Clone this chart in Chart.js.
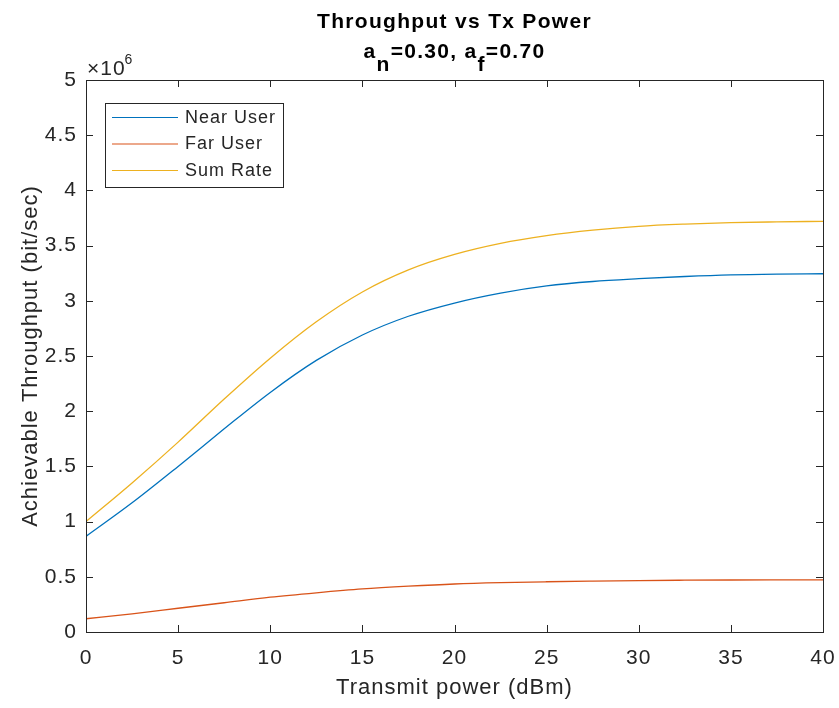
<!DOCTYPE html>
<html lang="en">
  <head>
    <meta charset="UTF-8" />
    <title>Throughput vs Tx Power</title>
    <style>
      body {
        margin: 0;
        background-color: #ffffff;
      }
    </style>
    <script src="https://cdn.jsdelivr.net/npm/chart.js"></script>
  </head>
  <body>
    <canvas id="chart" width="839" height="708"></canvas>
    <script>
      // transmit power (dBm)
      const txPower = [0, 2.5, 5, 7.5, 10, 12.5, 15, 17.5, 20, 22.5, 25, 27.5, 30, 32.5, 35, 37.5, 40];
      // achievable throughput, in units of 1e6 bit/sec
      const nearUser = [0.866, 1.17, 1.5, 1.84, 2.17, 2.46, 2.69, 2.86, 2.98, 3.07, 3.135, 3.175, 3.2, 3.22, 3.235, 3.242, 3.245];
      const farUser = [0.12, 0.165, 0.215, 0.265, 0.315, 0.355, 0.39, 0.415, 0.435, 0.447, 0.455, 0.461, 0.466, 0.469, 0.471, 0.472, 0.472];
      const sumRate = [1.0, 1.35, 1.72, 2.11, 2.48, 2.81, 3.08, 3.28, 3.42, 3.52, 3.59, 3.64, 3.675, 3.695, 3.708, 3.715, 3.72];

      const seriesNames = ['Near User', 'Far User', 'Sum Rate'];
      const seriesColors = ['#0072BD', '#D95319', '#EDB120'];

      const titleText = 'Throughput vs Tx Power';
      const xTitle = 'Transmit power (dBm)';
      const yTitle = 'Achievable Throughput (bit/sec)';

      const FONT = "'Liberation Sans', Arial, sans-serif";
      const AXIS = '#262626';

      const toPoints = (ys) => txPower.map((x, i) => ({ x: x, y: ys[i] }));

      // matlab text looks a bit wider than arial, so space the letters out
      const spacing = {
        id: 'spacing',
        beforeUpdate(chart) { chart.ctx.letterSpacing = '1px'; },
        beforeLayout(chart) { chart.ctx.letterSpacing = '1px'; },
        beforeDraw(chart) { chart.ctx.letterSpacing = '1px'; }
      };

      // box round the axes with inward ticks on all four sides
      const boxTicks = {
        id: 'boxTicks',
        afterDatasetsDraw(chart) {
          const { ctx, chartArea: a, scales } = chart;
          const len = 7;
          ctx.save();
          ctx.strokeStyle = AXIS;
          ctx.lineWidth = 1;
          ctx.strokeRect(Math.round(a.left) + 0.5, Math.round(a.top) + 0.5,
            Math.round(a.right - a.left), Math.round(a.bottom - a.top));
          ctx.beginPath();
          scales.x.ticks.forEach(t => {
            const px = Math.round(scales.x.getPixelForValue(t.value)) + 0.5;
            ctx.moveTo(px, a.bottom); ctx.lineTo(px, a.bottom - len);
            ctx.moveTo(px, a.top); ctx.lineTo(px, a.top + len);
          });
          scales.y.ticks.forEach(t => {
            const py = Math.round(scales.y.getPixelForValue(t.value)) + 0.5;
            ctx.moveTo(a.left, py); ctx.lineTo(a.left + len, py);
            ctx.moveTo(a.right, py); ctx.lineTo(a.right - len, py);
          });
          ctx.stroke();
          ctx.restore();
        }
      };

      // title with subscripts and the x10^6 exponent label
      const titles = {
        id: 'titles',
        afterDraw(chart) {
          const { ctx, chartArea: a } = chart;
          const cx = (a.left + a.right) / 2;
          ctx.save();
          ctx.letterSpacing = '1.3px';
          ctx.fillStyle = '#000';
          ctx.textBaseline = 'alphabetic';
          ctx.textAlign = 'left';
          ctx.font = 'bold 21px ' + FONT;
          let w = ctx.measureText(titleText).width;
          ctx.fillText(titleText, cx - w / 2, 28);

          const parts = [['a', 0], ['n', 1], ['=0.30, a', 0], ['f', 1], ['=0.70', 0]];
          w = parts.reduce((s, p) => s + ctx.measureText(p[0]).width, 0);
          let x = cx - w / 2;
          parts.forEach(p => {
            ctx.fillText(p[0], x, p[1] ? 71 : 58);
            x += ctx.measureText(p[0]).width;
          });

          ctx.fillStyle = AXIS;
          ctx.letterSpacing = '1px';
          ctx.font = '21px ' + FONT;
          ctx.fillText('\u00d710', a.left + 1, 75);
          const ew = ctx.measureText('\u00d710').width;
          ctx.font = '14px ' + FONT;
          ctx.fillText('6', a.left + ew, 64);
          ctx.restore();
        }
      };

      // legend box in the upper left corner of the axes
      const boxLegend = {
        id: 'boxLegend',
        afterDraw(chart) {
          const { ctx, chartArea: a } = chart;
          const left = a.left + 19, top = a.top + 23;
          ctx.save();
          ctx.fillStyle = '#fff';
          ctx.fillRect(left, top, 178, 84);
          ctx.strokeStyle = AXIS;
          ctx.lineWidth = 1;
          ctx.strokeRect(left + 0.5, top + 0.5, 178, 84);
          ctx.letterSpacing = '1px';
          ctx.font = '18px ' + FONT;
          ctx.textBaseline = 'middle';
          ctx.textAlign = 'left';
          chart.data.datasets.forEach((ds, i) => {
            const y = top + 14 + i * 26.5;
            ctx.strokeStyle = ds.borderColor;
            ctx.lineWidth = 1.2;
            ctx.beginPath();
            ctx.moveTo(left + 7, y + 0.5);
            ctx.lineTo(left + 73, y + 0.5);
            ctx.stroke();
            ctx.fillStyle = AXIS;
            ctx.fillText(ds.label, left + 80, y + 1);
          });
          ctx.restore();
        }
      };

      const makeSet = (label, ys, color) => ({
        label: label,
        data: toPoints(ys),
        borderColor: color,
        backgroundColor: color,
        borderWidth: 1.3,
        pointRadius: 0,
        cubicInterpolationMode: 'monotone',
        fill: false
      });

      const ctx = document.getElementById('chart').getContext('2d');
      const chart = new Chart(ctx, {
        type: 'line',
        data: {
          datasets: [
            makeSet(seriesNames[0], nearUser, seriesColors[0]),
            makeSet(seriesNames[1], farUser, seriesColors[1]),
            makeSet(seriesNames[2], sumRate, seriesColors[2])
          ]
        },
        options: {
          responsive: false,
          animation: false,
          events: [],
          layout: { padding: { top: 80, right: 0, left: 0, bottom: 0 } },
          plugins: {
            legend: { display: false },
            title: { display: false },
            tooltip: { enabled: false }
          },
          scales: {
            x: {
              type: 'linear',
              min: 0,
              max: 40,
              grid: { display: false },
              border: { display: false },
              ticks: {
                stepSize: 5,
                padding: 6,
                color: AXIS,
                maxRotation: 0,
                font: { family: FONT, size: 21 }
              },
              title: {
                display: true,
                text: xTitle,
                color: AXIS,
                padding: { top: 7, bottom: 7 },
                font: { family: FONT, size: 22 }
              },
              afterFit(scale) {
                scale.height = 76;
                scale.paddingLeft = 0;
                scale.paddingRight = 16;
              }
            },
            y: {
              min: 0,
              max: 5,
              grid: { display: false },
              border: { display: false },
              ticks: {
                stepSize: 0.5,
                padding: 1,
                color: AXIS,
                font: { family: FONT, size: 21 },
                callback: (v) => String(Math.round(v * 10) / 10)
              },
              title: {
                display: true,
                text: yTitle,
                color: AXIS,
                padding: { top: 18, bottom: 18 },
                font: { family: FONT, size: 22 }
              },
              afterFit(scale) { scale.width = 86; }
            }
          }
        },
        plugins: [spacing, boxTicks, titles, boxLegend]
      });
    </script>
  </body>
</html>
